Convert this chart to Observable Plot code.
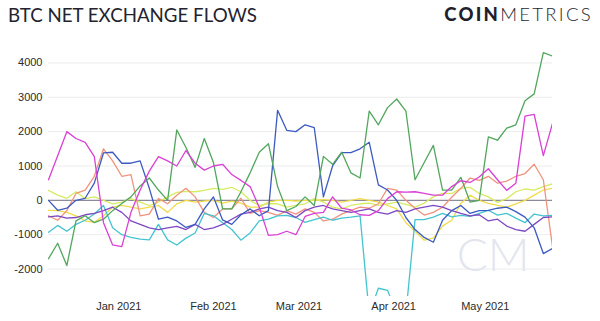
<!DOCTYPE html>
<html><head><meta charset="utf-8">
<script src="https://cdn.jsdelivr.net/npm/d3@7"></script>
<script src="https://cdn.jsdelivr.net/npm/@observablehq/plot@0.6"></script>
<style>
html,body{margin:0;padding:0;background:#fff;}
#wrap{width:600px;height:321px;position:relative;overflow:hidden;background:#fff;}
#title{position:absolute;left:8px;top:6px;font-family:Lato,sans-serif;font-size:18.7px;line-height:19px;color:#23232f;white-space:nowrap;}
#logo{position:absolute;right:7px;top:5px;font-family:Lato,sans-serif;font-size:18.5px;line-height:19px;color:#1f1f2e;white-space:nowrap;letter-spacing:2.3px;}
#logo b{font-weight:900;}
#logo span{font-weight:300;}
#chart{position:absolute;left:0;top:40px;}
</style></head>
<body>
<div id="wrap">
  <div id="title">BTC NET EXCHANGE FLOWS</div>
  <div id="logo"><b>COIN</b><span>METRICS</span></div>
  <div id="chart"></div>
</div>
<script>
const dates = ["2020-12-09","2020-12-12","2020-12-15","2020-12-18","2020-12-21","2020-12-24","2020-12-27","2020-12-30",
"2021-01-02","2021-01-05","2021-01-08","2021-01-11","2021-01-14","2021-01-17","2021-01-20","2021-01-23","2021-01-26","2021-01-29",
"2021-02-01","2021-02-04","2021-02-07","2021-02-10","2021-02-13","2021-02-16","2021-02-19","2021-02-22","2021-02-25","2021-02-28",
"2021-03-03","2021-03-06","2021-03-09","2021-03-12","2021-03-15","2021-03-18","2021-03-21","2021-03-24","2021-03-27","2021-03-30",
"2021-04-02","2021-04-05","2021-04-08","2021-04-11","2021-04-14","2021-04-17","2021-04-20","2021-04-23","2021-04-26","2021-04-29",
"2021-05-02","2021-05-05","2021-05-08","2021-05-11","2021-05-14","2021-05-17","2021-05-20","2021-05-23"];

const yellow = [-290,-300,-350,-450,-600,-640,-450,-200,-150,-200,-250,-200,-150,-350,-100,0,-50,-20,0,-80,-20,-80,-200,-200,-50,0,0,-20,0,0,20,0,-50,0,50,0,-50,-150,-250,-650,-900,-1160,-1100,-750,-580,-90,150,0,-90,-150,-200,-100,0,150,300,350];
const lime = [290,150,60,250,50,100,0,-100,-50,50,-50,-150,-50,100,230,260,250,290,350,320,380,250,0,-150,-100,-100,-200,-150,-100,50,-50,-200,-250,-150,-100,-80,-150,-100,-50,-120,-200,-80,100,200,200,350,380,200,100,-60,50,250,330,300,400,480];
const salmon = [-450,-580,-300,200,300,700,1500,1150,700,750,-450,-400,50,-100,150,350,100,-350,-500,-250,-250,60,-380,-300,-350,-440,-300,-400,-250,-350,-600,-550,-400,-290,-200,-230,-100,350,300,0,-230,-430,-350,-200,90,350,650,580,700,500,560,700,780,1050,600,-1350];
const cyan = [-930,-730,-900,-700,-580,-400,-150,-800,-1000,-1080,-1130,-1150,-700,-1150,-1300,-1100,-950,-380,-450,-650,-850,-1160,-950,-600,-550,-450,-440,-500,-640,-560,-490,-580,-520,-490,-450,-3300,-2560,-2620,-3300,-3300,-560,-560,-490,-380,-480,-440,-470,-380,-290,-430,-380,-520,-650,-400,-450,-440];
const purple = [-480,-450,-520,-500,-420,-380,-300,-200,-350,-600,-700,-800,-850,-800,-760,-850,-700,-850,-800,-700,-550,-400,-350,-250,-200,-300,-350,-500,-300,-200,-150,-250,-300,-350,-300,-250,-350,-400,-300,-350,-250,-200,-150,-200,-300,-380,-450,-420,-600,-550,-750,-850,-900,-700,-500,-480];
const blue = [0,-290,-230,0,60,500,1380,1400,1080,1080,1150,350,-550,-490,-600,-790,-700,-250,100,-570,-700,-420,-250,-450,-300,2620,2040,2000,2200,2120,100,1000,1390,1390,1500,1690,450,300,0,-500,-850,-1080,-1220,-580,-300,-150,-380,-300,-290,-230,-200,-330,-490,-800,-1550,-1400];
const green = [-1700,-1250,-1900,-600,-450,-650,-550,-300,-90,100,420,650,300,0,2050,1540,960,1800,1100,-250,-250,250,800,1400,1650,400,-300,-180,100,-150,1280,1050,1400,800,650,2600,2200,2700,2950,2600,600,1100,1600,300,300,670,-50,0,1850,1750,2100,2200,2900,3100,4300,4200];
const magenta = [600,1300,2000,1800,1690,1270,-650,-1300,-1350,-350,300,850,1270,1150,1000,1450,1080,880,1000,1050,750,580,400,-200,-1020,-1000,-900,-1000,-470,-380,-350,100,-230,-280,-420,-440,-300,50,250,240,250,200,150,150,400,570,520,680,920,600,290,500,2450,2500,1300,2240];

const seriesNames = ["Series 1","Series 2","Series 3","Series 4","Series 5","Series 6","Series 7","Series 8"];
const seriesValues = [yellow, lime, salmon, cyan, purple, blue, green, magenta];
const seriesColors = ["#f0dc4a","#d6ec62","#f0937e","#45c4d0","#7d48c2","#3d5ac2","#52a65e","#d940d6"];
const yTicks = [-2000,-1000,0,1000,2000,3000,4000];
const xTicks = ["2021-01-01","2021-02-01","2021-03-01","2021-04-01","2021-05-01"];

const rows = [];
seriesNames.forEach((name, k) => {
  seriesValues[k].forEach((v, i) => rows.push({date: new Date(dates[i]), value: v, series: name}));
});

const plot = Plot.plot({
  width: 600, height: 281,
  marginLeft: 48, marginRight: 48, marginTop: 7, marginBottom: 25,
  x: {type: "utc", domain: [new Date(dates[0]), new Date(dates[dates.length - 1])]},
  y: {domain: [-2800, 4450]},
  color: {type: "categorical", domain: seriesNames, range: seriesColors},
  style: {fontFamily: "'Liberation Sans', Arial, sans-serif", fontSize: "11px", color: "#2b2b2b", background: "transparent"},
  marks: [
    Plot.gridY(yTicks.filter(d => d !== 0), {stroke: "#ececec", strokeOpacity: 1}),
    Plot.text(["CM"], {frameAnchor: "bottom-right", textAnchor: "end", lineAnchor: "bottom", dx: -23, dy: -26, fontSize: 46, fontWeight: 300, fontFamily: "Lato, sans-serif", fill: "#e3e5ee"}),
    Plot.ruleY([0], {stroke: "#8d8b99", strokeWidth: 1.2}),
    Plot.line(rows, {x: "date", y: "value", z: "series", stroke: "series", strokeWidth: 1.3, clip: true}),
    Plot.axisY({ticks: yTicks, tickSize: 0, tickPadding: 6, tickFormat: d => String(d), label: null}),
    Plot.axisX({ticks: xTicks.map(d => new Date(d)), tickSize: 0, tickPadding: 6, tickFormat: d3.utcFormat("%b %Y"), label: null})
  ]
});
document.getElementById("chart").appendChild(plot);
</script>
</body></html>
